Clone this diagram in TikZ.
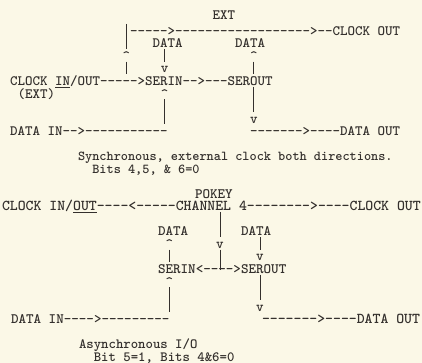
\documentclass[tikz,border=0pt]{standalone}
\usepackage{fontspec}
\definecolor{paper}{RGB}{251,248,231}
\definecolor{ink}{RGB}{52,48,45}
\newcommand\crt{\textasciicircum}
\begin{document}
\begin{tikzpicture}[x=1pt,y=-1pt,
  declare function={yc(\r)=31+12.53*(\r-1);},
  txt/.style={anchor=base west,inner sep=0pt,outer sep=0pt,text=ink},
  ta/.style={txt,font=\ttfamily\bfseries\fontsize{14.29}{14.29}\selectfont},
  tm/.style={txt,font=\ttfamily\bfseries\fontsize{14.38}{14.38}\selectfont},
  tb/.style={txt,font=\ttfamily\bfseries\fontsize{15.05}{15.05}\selectfont},
  tc/.style={txt,font=\ttfamily\bfseries\fontsize{13.62}{13.62}\selectfont},
  td/.style={txt,font=\ttfamily\bfseries\fontsize{14.1}{14.1}\selectfont},
  bar/.style={line width=0.9pt,draw=ink}]
\fill[paper] (0,0) rectangle (422,363);
\useasboundingbox (0,0) rectangle (422,363);
% text node: name, style, x, row, text
\newcommand\T[5]{\node[#2] (#1) at ({#3},{yc(#4)+4.4}) {#5};}
% vertical bar: name, x, first row, last row
\newcommand\V[4]{\coordinate (#1) at ({#2},{yc(#3)-7});
  \coordinate (#1e) at ({#2},{yc(#4)+5.5});
  \draw[bar] (#1) -- (#1e);}
% ---------- top diagram ----------
\T{ext}{ta}{212.5}{-0.25}{EXT}
\T{r1}{ta}{130}{1}{----->------------------>--CLOCK OUT}
\V{la}{126.25}{1}{2}
\T{d1}{ta}{152.5}{2}{DATA}
\T{d2}{ta}{235}{2}{DATA}
\T{u1}{ta}{122.5}{3}{\crt}
\V{ma}{164.5}{3}{3}
\T{u2}{ta}{250}{3}{\crt}
\V{lb}{126.25}{4}{4}
\T{v1}{ta}{160.75}{4}{v}
\V{ra}{253.75}{4}{4}
\T{clk}{ta}{10}{5}{CLOCK \underline{IN}/OUT----->SERIN-->---SEROUT}
\T{extb}{ta}{17.5}{6}{(EXT)}
\T{u3}{ta}{160.75}{6}{\crt}
\V{rb}{253.75}{6}{7}
\V{mb}{164.5}{7}{8}
\T{v2}{ta}{250}{8}{v}
\T{din}{ta}{10}{9}{DATA IN-->-----------}
\T{dout}{ta}{250}{9}{------->----DATA OUT}
\T{c1}{tc}{78}{11}{Synchronous, external clock both directions.}
\T{c2}{tc}{92.3}{12}{Bits 4,5, \& 6=0}
% ---------- bottom diagram ----------
\T{pk}{tm}{195}{14}{POKEY}
\T{clk2}{tb}{2}{15}{CLOCK IN/\underline{OUT}----<-----CHANNEL 4-------->----CLOCK OUT}
\V{ca}{220}{16}{17}
\T{d3}{tm}{158}{17}{DATA}
\T{d4}{tm}{241}{17}{DATA}
\T{u4}{tm}{165.55}{18}{\crt}
\T{v3}{tm}{216.2}{18}{v}
\V{sa}{260}{18}{18}
\V{na}{169.3}{19}{19}
\coordinate (cb) at (220,{yc(19)-7});
\coordinate (cbe) at (220,{yc(20)+1});
\draw[bar] (cb) -- (cbe);
\T{v4}{tm}{256.2}{19}{v}
\T{ser}{tm}{158}{20}{SERIN<---->SEROUT}
\T{u5}{tm}{165.55}{21}{\crt}
\V{sb}{260}{21}{22}
\V{nb}{169.3}{22}{23}
\T{v5}{tm}{256.2}{23}{v}
\T{din2}{tm}{11}{24}{DATA IN---->---------}
\T{dout2}{tb}{262}{24}{------->----DATA OUT}
\T{c3}{td}{79}{26}{Asynchronous I/O}
\T{c4}{td}{93.8}{27}{Bit 5=1, Bits 4\&6=0}
\end{tikzpicture}
\end{document}
